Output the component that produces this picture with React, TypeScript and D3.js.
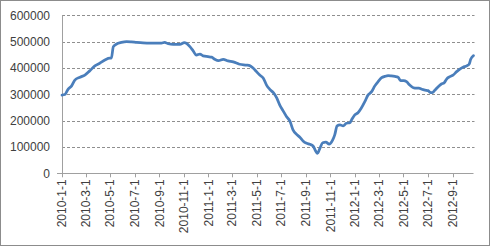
import React from "react";
import * as d3 from "d3";

const dates: string[] = [
  "2010-01-01","2010-01-08","2010-01-16","2010-01-25","2010-02-02","2010-02-15","2010-02-27","2010-03-11","2010-03-24","2010-04-05",
  "2010-04-18","2010-04-30","2010-05-04","2010-05-09","2010-05-17","2010-05-29","2010-06-11","2010-06-23","2010-07-06","2010-07-22",
  "2010-08-08","2010-08-25","2010-09-06","2010-09-14","2010-09-23","2010-10-05","2010-10-22","2010-11-02","2010-11-07","2010-11-16",
  "2010-11-24","2010-12-02","2010-12-11","2010-12-19","2010-12-31","2011-01-09","2011-01-17","2011-01-26","2011-02-07","2011-02-19",
  "2011-03-04","2011-03-12","2011-03-20","2011-04-06","2011-04-14","2011-04-23","2011-05-01","2011-05-09","2011-05-18","2011-05-26",
  "2011-06-03","2011-06-12","2011-06-20","2011-06-28","2011-07-06","2011-07-15","2011-07-23","2011-07-31","2011-08-09","2011-08-17",
  "2011-08-25","2011-09-03","2011-09-11","2011-09-19","2011-09-25","2011-09-30","2011-10-06","2011-10-13","2011-10-21","2011-10-29",
  "2011-11-07","2011-11-12","2011-11-18","2011-11-25","2011-12-03","2011-12-11","2011-12-20","2011-12-24","2012-01-01","2012-01-09",
  "2012-01-17","2012-01-26","2012-02-03","2012-02-12","2012-02-20","2012-02-28","2012-03-08","2012-03-16","2012-03-24","2012-04-01",
  "2012-04-10","2012-04-18","2012-04-24","2012-05-02","2012-05-09","2012-05-17","2012-05-26","2012-06-03","2012-06-09","2012-06-16",
  "2012-06-24","2012-07-02","2012-07-06","2012-07-12","2012-07-19","2012-07-27","2012-08-04","2012-08-11","2012-08-17","2012-08-25",
  "2012-09-02","2012-09-11","2012-09-19","2012-09-27","2012-10-06","2012-10-12","2012-10-16","2012-10-23"
];

const values: number[] = [
  297000,299000,319000,332000,354000,365000,373000,389000,408000,418000,
  430000,437000,437000,481000,491000,497000,500000,499000,497000,495000,
  494000,494000,494000,497000,492000,490000,490000,496000,494000,481000,
  465000,449000,453000,446000,443000,441000,433000,428000,433000,427000,
  423000,419000,414000,411000,409000,399000,386000,373000,361000,335000,
  319000,306000,287000,259000,238000,215000,199000,165000,148000,137000,
  123000,114000,110000,104000,86000,76000,95000,116000,118000,111000,
  127000,146000,180000,184000,180000,190000,192000,203000,222000,230000,
  247000,272000,297000,310000,332000,348000,363000,368000,371000,370000,
  368000,365000,352000,352000,348000,335000,325000,323000,323000,319000,
  316000,314000,308000,306000,316000,329000,339000,344000,358000,367000,
  373000,386000,396000,403000,408000,414000,433000,447000
];

const yTicks: number[] = [0, 100000, 200000, 300000, 400000, 500000, 600000];

const W = 490;
const H = 246;

function parse(s: string): Date {
  const [y, m, d] = s.split("-").map(Number);
  return new Date(Date.UTC(y, m - 1, d));
}

export default function App() {
  const left = 62;
  const right = 473.5;
  const top = 15.3;
  const bottom = 173.3;

  const x = d3
    .scaleUtc()
    .domain([parse("2010-01-01"), parse("2012-10-23")])
    .range([left, right]);
  const y = d3.scaleLinear().domain([0, 600000]).range([bottom, top]);

  const xTicks = d3.utcMonth.range(parse("2010-01-01"), parse("2012-10-02"), 2);
  const fmt = (d: Date) =>
    `${d.getUTCFullYear()}-${d.getUTCMonth() + 1}-${d.getUTCDate()}`;

  const data = dates.map((s, i) => ({ d: parse(s), v: values[i] }));
  const line = d3
    .line<{ d: Date; v: number }>()
    .x((p) => x(p.d))
    .y((p) => y(p.v))
    .curve(d3.curveMonotoneX);

  const font = "'Liberation Sans', Arial, sans-serif";
  const textColor = "#404040";
  const axisColor = "#a0a0a0";

  return (
    <svg
      width={W}
      height={H}
      style={{ position: "absolute", left: 0, top: 0, background: "#fff" }}
    >
      <rect x={0.5} y={0.5} width={W - 1} height={H - 1} fill="#fff" stroke="#8c8c8c" strokeWidth={1} />
      {yTicks.filter((t) => t > 0).map((t) => (
        <line
          key={"g" + t}
          x1={left}
          x2={right + 1}
          y1={Math.round(y(t)) + 0.5}
          y2={Math.round(y(t)) + 0.5}
          stroke="#8f8f8f"
          strokeWidth={1}
          strokeDasharray="3,2"
        />
      ))}
      <line x1={left + 0.5} x2={left + 0.5} y1={top} y2={bottom} stroke={axisColor} />
      <line x1={left - 5} x2={right} y1={Math.round(bottom) + 0.5} y2={Math.round(bottom) + 0.5} stroke={axisColor} />
      {xTicks.map((t) => (
        <line
          key={"xt" + +t}
          x1={Math.round(x(t)) + 0.5}
          x2={Math.round(x(t)) + 0.5}
          y1={bottom}
          y2={bottom + 4}
          stroke={axisColor}
        />
      ))}
      {yTicks.map((t) => (
        <text
          key={"yl" + t}
          x={50}
          y={y(t)}
          dy="0.35em"
          textAnchor="end"
          fontFamily={font}
          fontSize={12}
          fill={textColor}
        >
          {t}
        </text>
      ))}
      {xTicks.map((t) => (
        <text
          key={"xl" + +t}
          transform={`translate(${x(t)},${bottom + 6}) rotate(-90)`}
          dy="0.35em"
          textAnchor="end"
          fontFamily={font}
          fontSize={12}
          fill={textColor}
        >
          {fmt(t)}
        </text>
      ))}
      <path
        d={line(data) || ""}
        fill="none"
        stroke="#4A7EBB"
        strokeWidth={2.75}
        strokeLinejoin="round"
        strokeLinecap="round"
      />
    </svg>
  );
}
